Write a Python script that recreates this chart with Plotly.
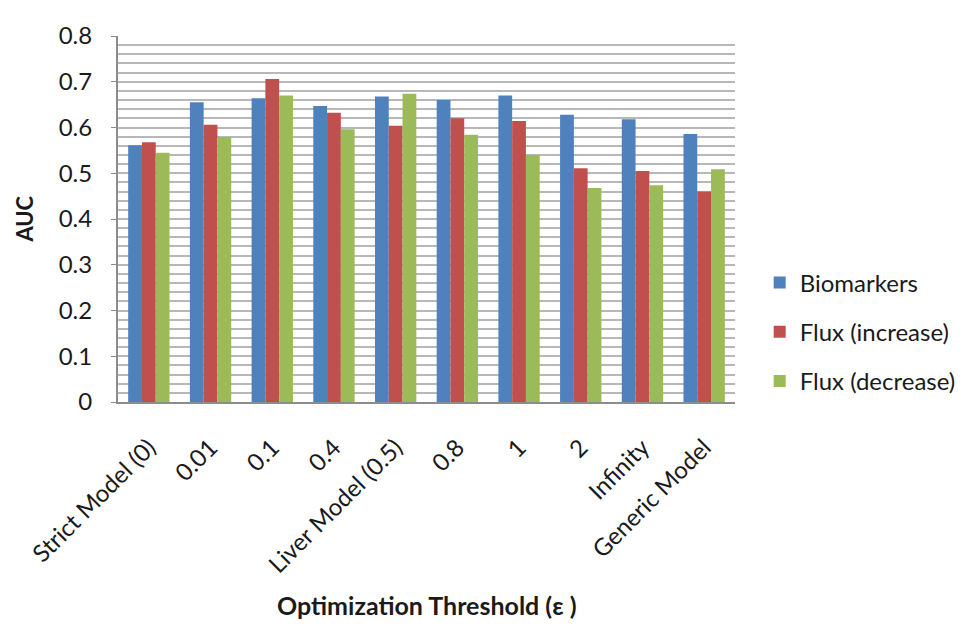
import plotly.graph_objects as go

categories = ["Strict Model (0)", "0.01", "0.1", "0.4", "Liver Model (0.5)", "0.8", "1", "2", "Infinity", "Generic Model"]
biomarkers = [0.561, 0.655, 0.664, 0.647, 0.668, 0.660, 0.670, 0.628, 0.618, 0.586]
flux_increase = [0.568, 0.606, 0.706, 0.632, 0.604, 0.620, 0.614, 0.511, 0.505, 0.460]
flux_decrease = [0.545, 0.579, 0.670, 0.596, 0.674, 0.584, 0.540, 0.468, 0.474, 0.509]
series_names = ["Biomarkers", "Flux (increase)", "Flux (decrease)"]
series_colors = ["#4F81BD", "#C0504D", "#9BBB59"]
y_ticks = [0, 0.1, 0.2, 0.3, 0.4, 0.5, 0.6, 0.7, 0.8]

FONT = "Lato, 'Open Sans', Arial, sans-serif"
TXT = "#1a1a1a"

fig = go.Figure()
for name, vals, col in zip(series_names, [biomarkers, flux_increase, flux_decrease], series_colors):
    fig.add_trace(go.Bar(x=categories, y=vals, name=name, marker=dict(color=col, line=dict(width=0)),
                         legendgroup=name))

fig.update_layout(
    width=965, height=622,
    margin=dict(l=110, r=230, t=18, b=228),
    paper_bgcolor="white", plot_bgcolor="white",
    barmode="group", bargap=0.33, bargroupgap=0,
    font=dict(family=FONT, color=TXT, size=22),
    showlegend=True,
    legend=dict(x=1.04, xanchor="left", y=0.1915, yanchor="middle",
                font=dict(family=FONT, size=24, color=TXT),
                tracegroupgap=15, bgcolor="rgba(0,0,0,0)"),
    xaxis=dict(
        tickangle=-45, tickfont=dict(family=FONT, size=24, color=TXT),
        showline=True, linecolor="#8c8c8c", linewidth=2,
        showgrid=False, ticks="", fixedrange=True, ticklabelstandoff=20,
    ),
    yaxis=dict(
        range=[0, 0.8], tickvals=y_ticks, ticktext=[("%g" % v) for v in y_ticks],
        tickfont=dict(family=FONT, size=24, color=TXT),
        showline=True, linecolor="#8c8c8c", linewidth=2,
        showgrid=True, gridcolor="#b8b8b8", gridwidth=2,
        minor=dict(dtick=0.02, tick0=0, showgrid=True, gridcolor="#b8b8b8", gridwidth=2),
        ticks="outside", ticklen=5, tickcolor="#8c8c8c",
        ticklabelstandoff=14, zeroline=False,
    ),
    annotations=[
        dict(text="<b>AUC</b>", xref="paper", yref="paper", x=-0.153, y=0.5, xanchor="center",
             yanchor="middle", textangle=-90, showarrow=False,
             font=dict(family=FONT, size=22, color=TXT)),
        dict(text="<b>Optimization Threshold (ε )</b>", xref="paper", yref="paper",
             x=0.5, y=-0.556, xanchor="center", yanchor="middle", showarrow=False,
             font=dict(family=FONT, size=25, color=TXT)),
    ],
)

fig.write_html("out.html")
